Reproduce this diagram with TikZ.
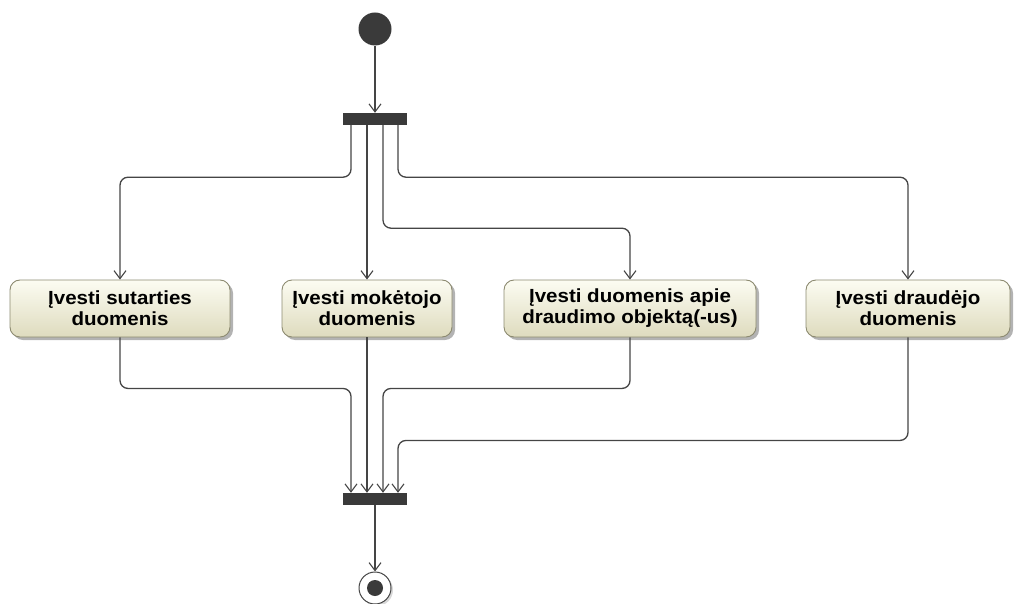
\documentclass[tikz,border=0pt]{standalone}
\usepackage{fontspec}
\newfontfamily\labfont{Liberation Sans}[FakeStretch=1.08]
\usetikzlibrary{arrows.meta,shadows}
\definecolor{linec}{HTML}{454545}
\definecolor{barc}{HTML}{3A3A3A}
\definecolor{boxtop}{HTML}{FCFCF2}
\definecolor{boxbot}{HTML}{DEDBBE}
\definecolor{boxborder}{HTML}{8C8A70}
\tikzset{
  flow/.style={draw=linec, line width=1.3pt, rounded corners=8pt,
    -{Straight Barb[length=8pt,width=12pt,line width=1.1pt]}},
  bar/.style={rectangle, fill=barc, draw=none, minimum width=64pt, minimum height=12pt, inner sep=0pt},
  action/.style={rectangle, rounded corners=10pt, draw=boxborder, line width=0.9pt,
    top color=boxtop, bottom color=boxbot, minimum height=57pt, inner sep=0pt,
    align=center, font=\labfont\bfseries\fontsize{19}{21}\selectfont,
    drop shadow={shadow xshift=3pt, shadow yshift=-3pt, fill=black!50, opacity=0.6}},
  startnode/.style={circle, fill=barc, draw=none, minimum size=33pt, inner sep=0pt},
}
\begin{document}
\begin{tikzpicture}[x=1pt,y=-1pt]
\useasboundingbox (0,0) rectangle (1016,604);
\node[startnode] (start) at (375,29) {};
\node[bar] (fork) at (375,119) {};
\node[bar] (join) at (375,499) {};
\node[action, minimum width=220pt] (a1) at (120,308.5) {Įvesti sutarties\\duomenis};
\node[action, minimum width=170pt] (a2) at (367,308.5) {Įvesti mokėtojo\\duomenis};
\node[action, minimum width=252pt] (a3) at (630,308.5) {Įvesti duomenis apie\\draudimo objektą(-us)};
\node[action, minimum width=204pt] (a4) at (908,308.5) {Įvesti draudėjo\\duomenis};
\node[circle, draw=linec, line width=1pt, fill=white, minimum size=32pt, inner sep=0pt,
  drop shadow={shadow xshift=2pt, shadow yshift=-2pt, fill=black!30, opacity=0.5}] (final) at (375,588) {};
\node[circle, fill=barc, minimum size=16pt, inner sep=0pt] (finalin) at (final.center) {};

\draw[flow] (start.south) -- (fork.north);
\draw[flow] ([xshift=-24pt]fork.south) -- ++(0,52) -| (a1.north);
\draw[flow] ([xshift=-8pt]fork.south) -- (a2.north);
\draw[flow] ([xshift=8pt]fork.south) -- ++(0,103) -| (a3.north);
\draw[flow] ([xshift=23pt]fork.south) -- ++(0,52) -| (a4.north);

\draw[flow] (a1.south) -- ++(0,51) -| ([xshift=-24pt]join.north);
\draw[flow] (a2.south) -- ([xshift=-8pt]join.north);
\draw[flow] (a3.south) -- ++(0,51) -| ([xshift=8pt]join.north);
\draw[flow] (a4.south) -- ++(0,103) -| ([xshift=23pt]join.north);

\draw[flow] (join.south) -- (final.north);
\end{tikzpicture}
\end{document}
